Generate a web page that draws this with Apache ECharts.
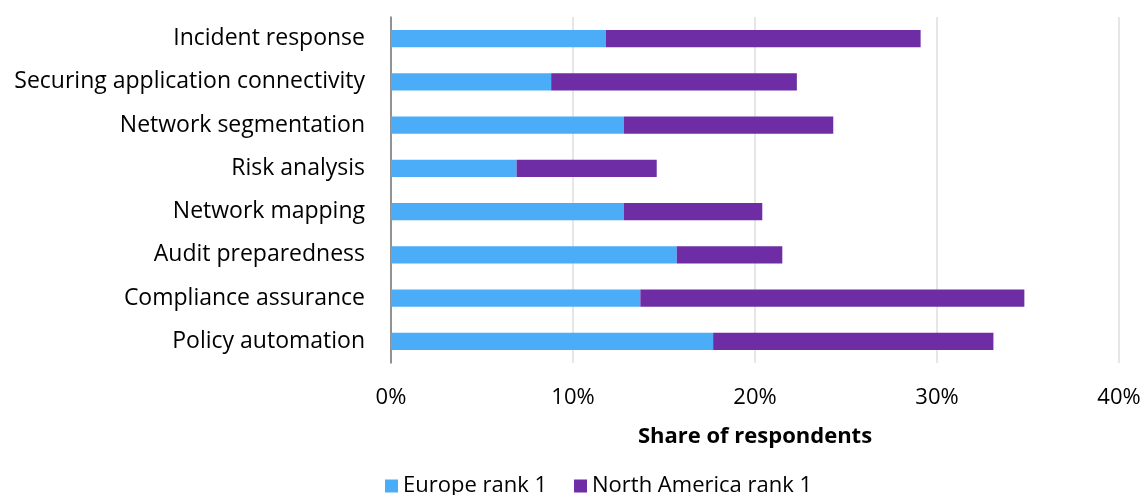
<!DOCTYPE html>
<html>
<head>
<meta charset="utf-8">
<script src="https://cdn.jsdelivr.net/npm/echarts@6/dist/echarts.min.js"></script>
<style>html,body{margin:0;padding:0;background:#fff}#c{width:1145px;height:495px}</style>
</head>
<body>
<div id="c"></div>
<script>
const categories = ["Incident response","Securing application connectivity","Network segmentation","Risk analysis","Network mapping","Audit preparedness","Compliance assurance","Policy automation"];
const europe = [11.8, 8.8, 12.8, 6.9, 12.8, 15.7, 13.7, 17.7];
const northAmerica = [17.3, 13.5, 11.5, 7.7, 7.6, 5.8, 21.1, 15.4];
const xTicks = [0, 10, 20, 30, 40];

const FONT = '"Open Sans", Lato, sans-serif';
const chart = echarts.init(document.getElementById('c'), null, {renderer: 'canvas'});
chart.setOption({
  animation: false,
  textStyle: {fontFamily: FONT},
  grid: {left: 391, right: 26, top: 17, bottom: 132, containLabel: false},
  legend: {
    data: ['Europe rank 1', 'North America rank 1'],
    top: 470, left: 380,
    itemWidth: 13, itemHeight: 13, itemGap: 27, itemTextGap: 7,
    icon: 'rect',
    textStyle: {fontSize: 22, color: '#000', fontFamily: FONT}
  },
  xAxis: {
    type: 'value', min: xTicks[0], max: xTicks[xTicks.length-1], interval: 10,
    name: 'Share of respondents', nameLocation: 'middle', nameGap: 63,
    nameTextStyle: {fontSize: 22, fontWeight: 'bold', color: '#000', fontFamily: FONT},
    axisLabel: {formatter: '{value}%', fontSize: 22, color: '#000', margin: 24, fontFamily: FONT},
    axisLine: {show: false}, axisTick: {show: false},
    splitLine: {show: true, lineStyle: {color: '#e6e6e6', width: 2}}
  },
  yAxis: {
    type: 'category', data: categories, inverse: true,
    axisLine: {show: true, lineStyle: {color: '#767676', width: 1.5}},
    axisTick: {show: false},
    axisLabel: {fontSize: 23, color: '#000', margin: 26, fontFamily: FONT, padding: [3, 0, 0, 0]}
  },
  series: [
    {name: 'Europe rank 1', type: 'bar', stack: 'a', data: europe, barWidth: '40%',
     itemStyle: {color: '#4badf7'}},
    {name: 'North America rank 1', type: 'bar', stack: 'a', data: northAmerica, barWidth: '40%',
     itemStyle: {color: '#6e2ca5'}}
  ]
});
</script>
</body>
</html>
